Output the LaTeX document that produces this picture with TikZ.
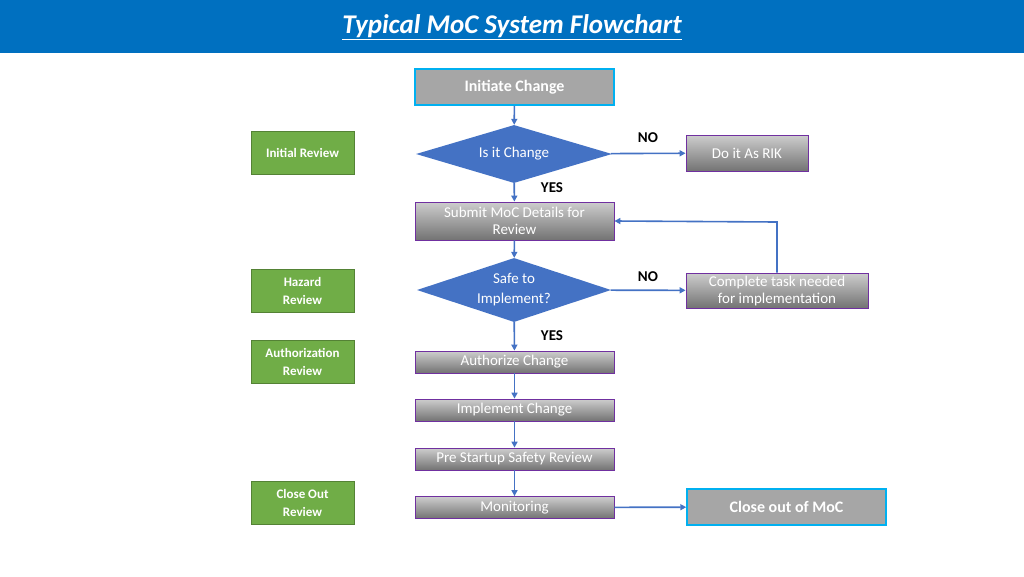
\documentclass[tikz,border=0pt]{standalone}
\usepackage{fontspec}
\setmainfont{Carlito}
\usetikzlibrary{shapes.geometric,arrows.meta}
\definecolor{bar}{RGB}{0,112,192}
\definecolor{dblue}{RGB}{68,114,196}
\definecolor{cyanb}{RGB}{0,176,240}
\definecolor{grn}{RGB}{112,173,71}
\definecolor{grnb}{RGB}{84,130,53}
\definecolor{purp}{RGB}{112,48,160}
\definecolor{gtop}{RGB}{205,205,205}
\definecolor{gbot}{RGB}{115,115,115}
\begin{document}
\begin{tikzpicture}[x=1pt,y=-1pt,
 gbox/.style={draw=purp,line width=0.8pt,top color=gtop,bottom color=gbot,text=white,font=\fontsize{15}{17}\selectfont,align=center,inner sep=0pt},
 cbox/.style={draw=cyanb,line width=1.5pt,fill=gray!70,text=white,font=\bfseries\fontsize{16}{18}\selectfont,inner sep=0pt},
 green/.style={draw=grnb,line width=0.8pt,fill=grn,text=white,font=\bfseries\fontsize{13}{18}\selectfont,align=center,minimum width=103pt,minimum height=43pt,inner sep=0pt},
 dia/.style={diamond,fill=dblue,text=white,font=\fontsize{15}{20}\selectfont,align=center,inner sep=0pt,aspect=3.3},
 arr/.style={draw=dblue,line width=1.6pt,-{Triangle[length=6pt,width=6pt]}},
 lab/.style={font=\bfseries\fontsize{15}{17}\selectfont}]
\useasboundingbox (0,0) rectangle (1024,576);
\fill[bar] (0,0) rectangle (1024,53);
\node[text=white,font=\bfseries\itshape\fontsize{27}{30}\selectfont] (title) at (512,27) {\underline{Typical MoC System Flowchart}};
\node[cbox,minimum width=199pt,minimum height=36pt] (init) at (514.5,87) {Initiate Change};
\node[dia,minimum width=196pt,minimum height=58pt] (d1) at (514,154) {Is it Change};
\node[gbox,minimum width=122pt,minimum height=36pt] (rik) at (747,153) {Do it As RIK};
\node[gbox,minimum width=199pt,minimum height=38pt] (sub) at (514.5,221) {Submit MoC Details for\\Review};
\node[dia,minimum width=194pt,minimum height=64pt] (d2) at (514,290) {Safe to\\Implement?};
\node[gbox,minimum width=182pt,minimum height=35pt] (comp) at (777,290.5) {Complete task needed\\for implementation};
\node[gbox,minimum width=199pt,minimum height=22pt] (auth) at (514.5,362) {Authorize Change};
\node[gbox,minimum width=199pt,minimum height=22pt] (impl) at (514.5,410) {Implement Change};
\node[gbox,minimum width=199pt,minimum height=22pt] (pre) at (514.5,459) {Pre Startup Safety Review};
\node[gbox,minimum width=199pt,minimum height=22pt] (mon) at (514.5,507.5) {Monitoring};
\node[cbox,minimum width=199pt,minimum height=36pt] (close) at (786.5,507) {Close out of MoC};
\node[green] (g1) at (302.5,153) {Initial Review};
\node[green] (g2) at (302.5,290.5) {Hazard\\Review};
\node[green] (g3) at (302.5,361.5) {Authorization\\Review};
\node[green] (g4) at (302.5,502.5) {Close Out\\Review};
\draw[arr] (init) -- (d1);
\draw[arr] (d1) -- (rik);
\draw[arr] (d1) -- (sub);
\draw[arr] (sub) -- (d2);
\draw[arr] (d2) -- (comp);
\draw[arr] (d2) -- (auth);
\draw[arr] (comp.north) -- (777,222) -- (sub.east);
\draw[arr] (auth) -- (impl);
\draw[arr] (impl) -- (pre);
\draw[arr] (pre) -- (mon);
\draw[arr] (mon) -- (close);
\node[lab] (no1) at (648,138) {NO};
\node[lab] (yes1) at (552,188) {YES};
\node[lab] (no2) at (648,277) {NO};
\node[lab] (yes2) at (552,336) {YES};
\end{tikzpicture}
\end{document}
